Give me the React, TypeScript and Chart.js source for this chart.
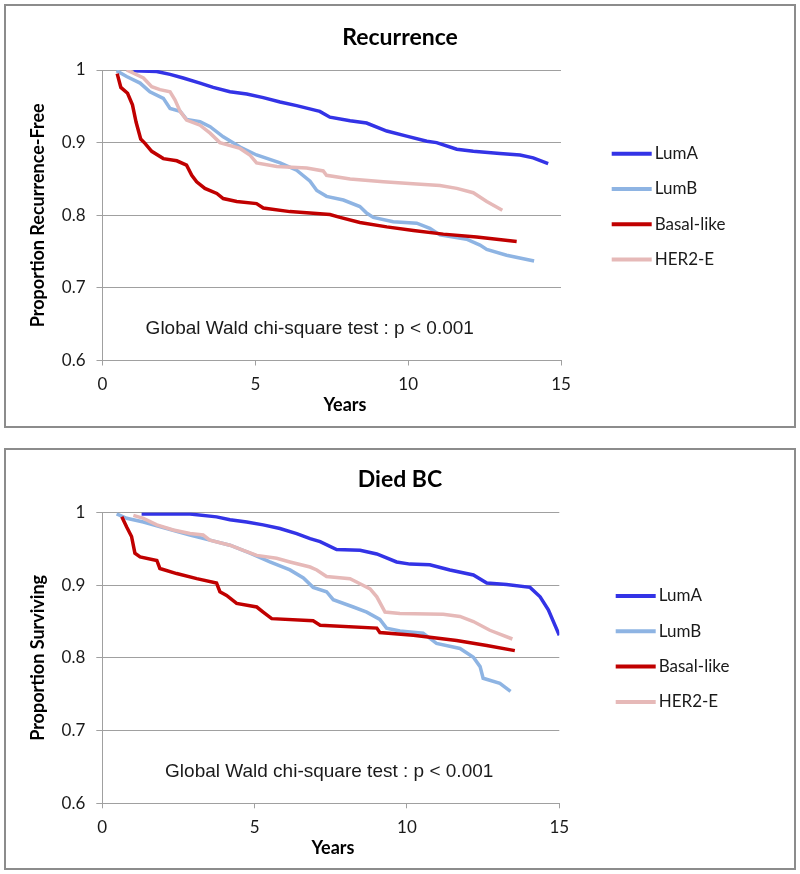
import React, { useEffect, useRef } from "react";
import { Chart, registerables } from "chart.js";

Chart.register(...registerables);

// ---------- data ----------
const seriesNames = ["LumA", "LumB", "Basal-like", "HER2-E"];
const seriesColors = ["#3333e6", "#8eb4e3", "#c00000", "#e6b9b8"];

const xTickValues = [0, 5, 10, 15];
const yTickValues = [0.6, 0.7, 0.8, 0.9, 1.0];
const yTickLabels = ["0.6", "0.7", "0.8", "0.9", "1"];

// Recurrence panel
const recLumAYears = [1.01, 1.77, 2.21, 2.64, 3.19, 3.62, 4.17, 4.72, 5.26, 5.81, 6.35, 7.01, 7.11, 7.44, 8.1, 8.64, 9.3, 9.95, 10.61, 10.93, 11.59, 12.13, 13.0, 13.66, 14.09, 14.58];
const recLumAValues = [0.999, 0.998, 0.994, 0.989, 0.982, 0.976, 0.97, 0.967, 0.962, 0.956, 0.951, 0.944, 0.943, 0.935, 0.93, 0.927, 0.916, 0.909, 0.902, 0.9, 0.891, 0.888, 0.885, 0.883, 0.879, 0.871];

const recLumBYears = [0.46, 0.79, 1.23, 1.55, 1.99, 2.21, 2.54, 2.75, 3.19, 3.52, 3.95, 4.5, 5.04, 5.81, 6.35, 6.79, 7.01, 7.33, 7.88, 8.42, 8.64, 8.86, 9.51, 10.28, 10.71, 11.04, 11.91, 12.35, 12.57, 13.22, 14.12];
const recLumBValues = [0.999, 0.991, 0.982, 0.97, 0.961, 0.947, 0.943, 0.932, 0.929, 0.922, 0.908, 0.894, 0.883, 0.872, 0.862, 0.847, 0.834, 0.826, 0.821, 0.812, 0.803, 0.797, 0.791, 0.789, 0.782, 0.773, 0.767, 0.759, 0.753, 0.745, 0.737];

const recBasalYears = [0.48, 0.6, 0.82, 0.98, 1.1, 1.25, 1.39, 1.61, 1.99, 2.43, 2.75, 2.92, 3.08, 3.35, 3.74, 3.95, 4.39, 5.04, 5.26, 6.13, 7.44, 7.77, 8.42, 9.3, 10.17, 11.15, 12.24, 13.55];
const recBasalValues = [0.995, 0.976, 0.968, 0.952, 0.928, 0.905, 0.899, 0.888, 0.878, 0.875, 0.869, 0.855, 0.846, 0.837, 0.83, 0.823, 0.819, 0.816, 0.81, 0.805, 0.801, 0.797, 0.79, 0.784, 0.779, 0.774, 0.77, 0.764];

const recHer2Years = [0.79, 1.34, 1.61, 1.88, 2.21, 2.37, 2.54, 2.75, 3.19, 3.52, 3.84, 4.5, 4.82, 5.04, 5.7, 6.68, 7.22, 7.33, 8.1, 9.19, 10.28, 11.04, 11.59, 12.13, 12.57, 13.08];
const recHer2Values = [1.0, 0.989, 0.977, 0.973, 0.97, 0.959, 0.943, 0.931, 0.924, 0.913, 0.9, 0.892, 0.883, 0.872, 0.867, 0.865, 0.861, 0.855, 0.85, 0.846, 0.843, 0.841, 0.837, 0.831, 0.819, 0.807];

// Died BC panel
const diedLumAYears = [1.29, 2.88, 3.75, 4.19, 4.74, 5.28, 5.83, 6.38, 6.82, 7.15, 7.69, 8.46, 9.01, 9.66, 10.1, 10.75, 11.41, 12.18, 12.62, 13.27, 14.04, 14.37, 14.64, 15.0];
const diedLumAValues = [0.998, 0.998, 0.994, 0.99, 0.987, 0.983, 0.978, 0.971, 0.964, 0.96, 0.949, 0.948, 0.943, 0.932, 0.929, 0.928, 0.921, 0.914, 0.903, 0.901, 0.897, 0.884, 0.866, 0.831];

const diedLumBYears = [0.47, 0.8, 1.35, 2.11, 2.88, 3.53, 4.19, 4.85, 5.5, 6.16, 6.6, 6.92, 7.36, 7.58, 8.24, 8.68, 9.11, 9.33, 9.77, 10.53, 10.97, 11.74, 12.18, 12.4, 12.5, 13.05, 13.4];
const diedLumBValues = [0.998, 0.992, 0.987, 0.978, 0.969, 0.962, 0.955, 0.944, 0.932, 0.921, 0.91, 0.897, 0.891, 0.88, 0.87, 0.863, 0.853, 0.841, 0.837, 0.834, 0.82, 0.813, 0.801, 0.788, 0.772, 0.765, 0.754];

const diedBasalYears = [0.64, 0.8, 0.96, 1.07, 1.24, 1.79, 1.89, 2.44, 3.1, 3.75, 3.86, 4.08, 4.41, 5.07, 5.28, 5.56, 6.92, 7.15, 9.01, 9.11, 10.21, 11.63, 12.62, 13.54];
const diedBasalValues = [0.994, 0.98, 0.967, 0.944, 0.939, 0.934, 0.923, 0.916, 0.909, 0.903, 0.891, 0.886, 0.875, 0.87, 0.863, 0.854, 0.851, 0.845, 0.841, 0.835, 0.831, 0.824, 0.817, 0.81];

const diedHer2Years = [1.02, 1.35, 1.79, 2.33, 2.88, 3.31, 3.53, 4.19, 4.63, 5.07, 5.72, 6.16, 6.82, 7.04, 7.36, 8.13, 8.46, 8.79, 9.01, 9.28, 9.77, 11.19, 11.74, 12.18, 12.72, 13.46];
const diedHer2Values = [0.996, 0.992, 0.983, 0.976, 0.971, 0.969, 0.962, 0.955, 0.948, 0.941, 0.937, 0.932, 0.925, 0.921, 0.912, 0.909, 0.902, 0.895, 0.884, 0.863, 0.861, 0.86, 0.857, 0.85, 0.838, 0.826];

const annotationText = "Global Wald chi-square test : p < 0.001";
const xAxisTitle = "Years";

// ---------- layout ----------
type PanelCfg = {
  title: string;
  yTitle: string;
  series: { years: number[]; values: number[] }[];
  box: { left: number; top: number; width: number; height: number };
  area: { left: number; top: number; right: number; bottom: number };
  titleY: number;
  legendX: number;
  legendY: number;
  noteAt: [number, number];
  xTitleAt: number;
};

const panels: PanelCfg[] = [
  {
    title: "Recurrence",
    yTitle: "Proportion Recurrence-Free",
    series: [
      { years: recLumAYears, values: recLumAValues },
      { years: recLumBYears, values: recLumBValues },
      { years: recBasalYears, values: recBasalValues },
      { years: recHer2Years, values: recHer2Values },
    ],
    box: { left: 4, top: 4, width: 792, height: 424 },
    area: { left: 96.5, top: 64, right: 555, bottom: 354.5 },
    titleY: 32,
    legendX: 605.7,
    legendY: 147.7,
    noteAt: [1.41, 0.644],
    xTitleAt: 7.93,
  },
  {
    title: "Died BC",
    yTitle: "Proportion Surviving",
    series: [
      { years: diedLumAYears, values: diedLumAValues },
      { years: diedLumBYears, values: diedLumBValues },
      { years: diedBasalYears, values: diedBasalValues },
      { years: diedHer2Years, values: diedHer2Values },
    ],
    box: { left: 4, top: 448, width: 792, height: 422 },
    area: { left: 96.3, top: 62.5, right: 553.3, bottom: 353.3 },
    titleY: 30,
    legendX: 609.7,
    legendY: 146,
    noteAt: [2.06, 0.6434],
    xTitleAt: 7.57,
  },
];

const gridColor = "#a0a0a0";
const textColor = "#1a1a1a";

const overlayPlugin = {
  id: "overlay",
  afterDraw(chart: any, _args: any, opts: any) {
    const { ctx, chartArea, scales } = chart;
    ctx.save();
    // title
    ctx.fillStyle = "#000";
    ctx.textAlign = "center";
    ctx.textBaseline = "middle";
    ctx.font = "bold 23px Lato";
    ctx.fillText(opts.title, chart.width / 2, opts.titleY);
    // x axis title
    ctx.font = "bold 18px Lato";
    ctx.fillText(xAxisTitle, scales.x.getPixelForValue(opts.xTitleAt), chartArea.bottom + 45);
    // annotation
    ctx.textAlign = "left";
    ctx.font = "19px 'Liberation Sans', Arial";
    ctx.fillStyle = textColor;
    ctx.fillText(annotationText, scales.x.getPixelForValue(opts.noteAt[0]), scales.y.getPixelForValue(opts.noteAt[1]));
    // legend
    ctx.font = "17px Lato";
    chart.data.datasets.forEach((ds: any, i: number) => {
      const y = opts.legendY + i * 35.3;
      ctx.strokeStyle = ds.borderColor;
      ctx.lineWidth = 4;
      ctx.beginPath();
      ctx.moveTo(opts.legendX, y);
      ctx.lineTo(opts.legendX + 40, y);
      ctx.stroke();
      ctx.fillStyle = textColor;
      ctx.fillText(ds.label, opts.legendX + 43, y);
    });
    ctx.restore();
  },
};

function KMPanel({ cfg }: { cfg: PanelCfg }) {
  const ref = useRef<HTMLCanvasElement | null>(null);
  const W = cfg.box.width - 4;
  const H = cfg.box.height - 4;

  useEffect(() => {
    if (!ref.current) return;
    const datasets = cfg.series.map((s, i) => ({
      label: seriesNames[i],
      data: s.years.map((t, j) => ({ x: t, y: s.values[j] })),
      borderColor: seriesColors[i],
      backgroundColor: seriesColors[i],
      borderWidth: 3.5,
      pointRadius: 0,
      tension: 0,
      fill: false,
      order: 3 - i,
    }));
    const chart = new Chart(ref.current, {
      type: "line",
      data: { datasets },
      plugins: [overlayPlugin],
      options: {
        responsive: false,
        animation: false,
        events: [],
        layout: { padding: { left: 0, top: cfg.area.top, right: W - cfg.area.right, bottom: 0 } },
        plugins: {
          legend: { display: false },
          title: { display: false },
          tooltip: { enabled: false },
          overlay: {
            title: cfg.title,
            titleY: cfg.titleY,
            legendX: cfg.legendX,
            legendY: cfg.legendY,
            noteAt: cfg.noteAt,
            xTitleAt: cfg.xTitleAt,
          },
        } as any,
        scales: {
          x: {
            type: "linear",
            min: 0,
            max: 15,
            afterBuildTicks: (s: any) => {
              s.ticks = xTickValues.map((v) => ({ value: v }));
            },
            afterFit: (s: any) => {
              s.height = H - cfg.area.bottom;
            },
            ticks: {
              padding: 9,
              maxRotation: 0,
              color: textColor,
              font: { family: "Lato", size: 17 },
              callback: (v: any) => String(v),
            },
            grid: { drawOnChartArea: false, drawTicks: true, tickLength: 5, color: gridColor },
            border: { display: true, color: gridColor },
          },
          y: {
            type: "linear",
            min: 0.6,
            max: 1.0,
            afterBuildTicks: (s: any) => {
              s.ticks = yTickValues.map((v) => ({ value: v }));
            },
            afterFit: (s: any) => {
              s.width = cfg.area.left;
            },
            ticks: {
              padding: 11,
              color: textColor,
              font: { family: "Lato", size: 17 },
              callback: (v: any) => {
                const idx = yTickValues.findIndex((t) => Math.abs(t - v) < 1e-6);
                return idx >= 0 ? yTickLabels[idx] : "";
              },
            },
            grid: { color: gridColor, tickLength: 6 },
            border: { display: true, color: gridColor },
            title: {
              display: true,
              text: cfg.yTitle,
              color: "#000",
              font: { family: "Lato", size: 18, weight: "bold" },
              padding: { top: 21, bottom: 0 },
            },
          },
        },
      } as any,
    });
    return () => chart.destroy();
  }, [cfg]);

  return (
    <div
      style={{
        position: "absolute",
        left: cfg.box.left,
        top: cfg.box.top,
        width: cfg.box.width,
        height: cfg.box.height,
        border: "2px solid #8c8c8c",
        boxSizing: "border-box",
        background: "#fff",
      }}
    >
      <canvas
        ref={ref}
        width={W}
        height={H}
        style={{ position: "absolute", left: 0, top: 0, width: W, height: H, display: "block" }}
      />
    </div>
  );
}

export default function App() {
  return (
    <div style={{ position: "absolute", left: 0, top: 0, width: 800, height: 874, background: "#fff" }}>
      {panels.map((p) => (
        <KMPanel key={p.title} cfg={p} />
      ))}
    </div>
  );
}
